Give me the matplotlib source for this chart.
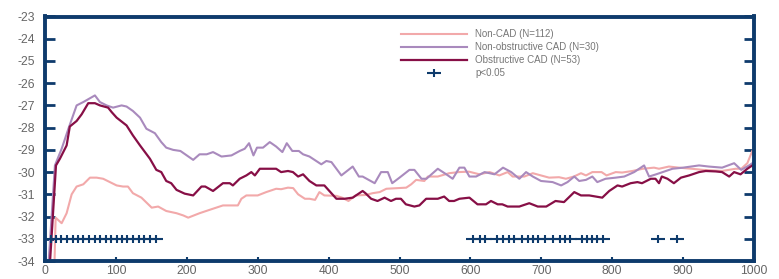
import matplotlib
matplotlib.use("Agg")
import matplotlib.pyplot as plt
from matplotlib.path import Path

# ---- data ----
ncad_x = [13, 15, 23.5, 30.5, 37.6, 44.6, 54, 63.4, 72.8, 82, 91.5, 101, 110, 117, 124, 136, 150.5, 159.6, 171, 185.5,
          195, 202, 218, 232, 251, 272, 277, 284, 300, 312, 326, 333, 342.7, 350, 357, 366.6, 373, 380.9, 387, 394,
          411, 419, 428, 438, 452, 462, 472, 481.5, 509.5, 516.5, 523.5, 535, 540, 554, 570, 583.5, 598, 612.7, 627,
          640.8, 652.5, 659.6, 676, 688, 711, 725, 734.7, 746, 756, 763, 772, 785, 792, 805, 814, 828.6, 843, 859,
          866, 880, 894, 912, 928, 955, 974, 982, 990.6, 997.6]
ncad_y = [-34.6, -32.05, -32.3, -31.85, -31.0, -30.65, -30.55, -30.25, -30.25, -30.3, -30.45, -30.6, -30.65, -30.65,
          -30.95, -31.15, -31.6, -31.55, -31.75, -31.85, -31.95, -32.05, -31.85, -31.7, -31.5, -31.5, -31.2, -31.05,
          -31.05, -30.9, -30.75, -30.77, -30.7, -30.72, -31.0, -31.2, -31.2, -31.25, -30.9, -31.05, -31.07, -31.15,
          -31.3, -31.05, -31.03, -30.95, -30.9, -30.75, -30.7, -30.55, -30.35, -30.4, -30.2, -30.2, -30.05, -30.0,
          -29.98, -30.1, -30.0, -30.15, -30.0, -30.2, -30.2, -30.05, -30.25, -30.23, -30.3, -30.2, -30.05, -30.15,
          -30.0, -30.0, -30.15, -30.0, -30.02, -29.95, -29.85, -29.8, -29.85, -29.75, -29.8, -29.85, -29.9, -29.95,
          -29.85, -29.85, -29.6, -29.05]

nob_x = [4, 14, 23.5, 33, 44.6, 54, 70.4, 77.5, 86.9, 96, 108, 115, 124, 134, 143, 155, 164, 171, 180.7, 191, 209,
         218, 228, 237, 249, 263, 274.6, 281.7, 287.8, 294, 299, 307.5, 317, 326, 334.8, 341, 348.8, 358, 364, 373,
         389.7, 396.8, 404, 418, 434, 442.7, 448, 465, 474, 483.5, 489.7, 500, 514, 521, 531, 538, 554, 566, 575,
         584.5, 591.5, 598.6, 608, 620, 634, 646, 657.6, 669, 678.5, 688, 699.6, 716, 728, 737, 746.5, 753.5, 763,
         772, 779, 790.6, 805, 817, 831, 845, 852, 862, 885, 900, 922.5, 936, 955, 972, 982, 993, 1000]
nob_y = [-34.6, -29.7, -28.95, -28.05, -27.0, -26.85, -26.55, -26.85, -27.0, -27.1, -27.0, -27.05, -27.25, -27.55,
         -28.05, -28.25, -28.65, -28.9, -29.0, -29.05, -29.45, -29.2, -29.2, -29.1, -29.3, -29.25, -29.05, -28.95,
         -28.7, -29.25, -28.9, -28.9, -28.65, -28.85, -29.1, -28.7, -29.05, -29.05, -29.2, -29.3, -29.65, -29.5,
         -29.55, -30.15, -29.75, -30.2, -30.2, -30.5, -30.0, -30.0, -30.5, -30.25, -29.9, -29.9, -30.3, -30.3,
         -29.85, -30.1, -30.3, -29.8, -29.8, -30.2, -30.2, -30.0, -30.1, -29.8, -30.0, -30.3, -30.0, -30.2, -30.4,
         -30.45, -30.6, -30.45, -30.2, -30.4, -30.35, -30.2, -30.45, -30.3, -30.25, -30.2, -30.0, -29.7, -30.2,
         -30.1, -29.85, -29.8, -29.7, -29.75, -29.8, -29.6, -29.9, -29.7, -29.55]

obs_x = [6, 15.5, 21, 30.5, 35, 44.6, 51.7, 61, 70.4, 77.5, 89, 94, 101, 115, 124, 134, 148, 157, 164, 171, 178,
         185.5, 197, 209, 220.7, 226, 237, 251, 260.6, 265, 274.6, 284, 291, 296, 303, 326, 333, 342.7, 349.7, 357,
         364, 373, 382.7, 394, 411, 422.5, 434, 448, 452, 460, 469, 479, 488, 495, 502, 509, 521, 528, 537.6, 554,
         563, 570, 577, 584.5, 598.6, 610, 622, 629, 638.5, 645, 652.5, 669, 683, 695, 707, 720, 732, 746.5, 756,
         767.6, 786, 795.8, 807.5, 814, 826, 835.6, 842, 854.5, 861, 866, 870, 878, 887, 897, 908.5, 922.5, 932,
         946, 955, 965, 972, 981, 990.6, 1000]
obs_y = [-34.6, -29.7, -29.4, -28.8, -27.95, -27.7, -27.4, -26.9, -26.9, -27.0, -27.1, -27.3, -27.55, -27.9, -28.35,
         -28.8, -29.4, -29.9, -30.0, -30.4, -30.5, -30.8, -30.97, -31.05, -30.65, -30.65, -30.85, -30.5, -30.5,
         -30.6, -30.3, -30.15, -30.0, -30.15, -29.85, -29.85, -30.0, -29.95, -30.0, -30.2, -30.1, -30.4, -30.6,
         -30.6, -31.2, -31.2, -31.15, -30.85, -30.95, -31.2, -31.3, -31.15, -31.3, -31.2, -31.2, -31.45, -31.55,
         -31.5, -31.2, -31.2, -31.1, -31.3, -31.3, -31.2, -31.15, -31.45, -31.45, -31.3, -31.45, -31.45, -31.55,
         -31.55, -31.4, -31.55, -31.55, -31.3, -31.35, -30.9, -31.05, -31.05, -31.15, -30.85, -30.6, -30.65, -30.5,
         -30.45, -30.5, -30.3, -30.3, -30.5, -30.2, -30.3, -30.5, -30.25, -30.15, -30.0, -29.95, -29.97, -30.0,
         -30.2, -30.0, -30.1, -29.85, -29.65]

sig_x = [8, 16, 23, 31, 39, 47, 54, 62, 70, 78, 86, 93, 101, 108, 116, 124, 132, 140, 148, 156,
         604, 613, 621, 637, 646, 654, 662, 673, 681, 688, 696, 705, 717, 726, 733, 740, 758, 765, 772, 779, 787,
         865, 891]
sig_level = -33

labels = ["Non-CAD (N=112)", "Non-obstructive CAD (N=30)", "Obstructive CAD (N=53)", "p<0.05"]
x_ticks = [0, 100, 200, 300, 400, 500, 600, 700, 800, 900, 1000]
y_ticks = [-23, -24, -25, -26, -27, -28, -29, -30, -31, -32, -33, -34]

# ---- style ----
c_ncad = "#f2a9aa"
c_nob = "#a98abd"
c_obs = "#870f46"
navy = "#0e3b6c"
gray = "#666666"

plt.rcParams['font.family'] = ['Liberation Sans', 'DejaVu Sans']

fig = plt.figure(figsize=(7.79, 2.79), dpi=100)
ax = fig.add_axes([45 / 779, 1 - 261 / 279, 709 / 779, 244.5 / 279])

ax.plot(ncad_x, ncad_y, color=c_ncad, lw=1.5, label=labels[0])
ax.plot(nob_x, nob_y, color=c_nob, lw=1.5, label=labels[1])
ax.plot(obs_x, obs_y, color=c_obs, lw=1.6, label=labels[2])

plus = Path([(-1, 0), (1, 0), (0, -0.55), (0, 0.55)],
            [Path.MOVETO, Path.LINETO, Path.MOVETO, Path.LINETO])
ax.plot(sig_x, [sig_level] * len(sig_x), linestyle='none', marker=plus, markersize=10,
        markeredgewidth=1.5, color=navy, label=labels[3], clip_on=False, zorder=5)

ax.set_xlim(0, 1000)
ax.set_ylim(-34, -23)
ax.set_xticks(x_ticks)
ax.set_yticks(y_ticks)
ax.set_xticklabels([str(v) for v in x_ticks])
ax.set_yticklabels([str(v) for v in y_ticks])

for s in ax.spines.values():
    s.set_color(navy)
    s.set_linewidth(2.8)

ax.tick_params(axis='y', which='both', direction='in', length=7, width=2, color=navy,
               left=True, right=True, labelsize=8.7, labelcolor=gray, pad=7)
ax.tick_params(axis='x', which='both', direction='in', length=3, width=1.5, color=navy,
               bottom=True, top=False, labelsize=8.7, labelcolor=gray, pad=3)

leg = ax.legend(loc='upper left', bbox_to_anchor=(0.502, 0.948), frameon=False, fontsize=7,
                handlelength=6.8, handletextpad=0.85, labelspacing=0.3, borderpad=0, borderaxespad=0)
for t in leg.get_texts():
    t.set_color("#777777")

fig.savefig("out.png", dpi=100)
